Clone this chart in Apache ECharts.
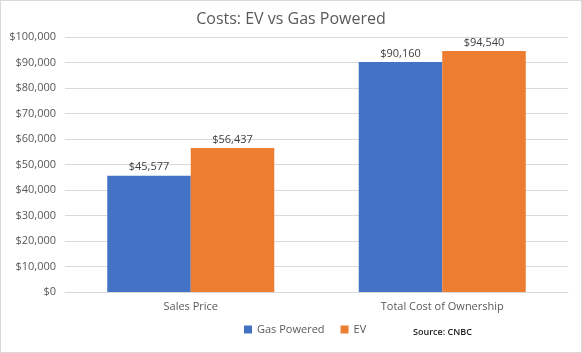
<!DOCTYPE html>
<html><head><meta charset="utf-8">
<script src="https://cdn.jsdelivr.net/npm/echarts@6/dist/echarts.min.js"></script>
<style>html,body{margin:0;padding:0;background:#fff}#c{width:582px;height:353px;box-sizing:border-box;border:1px solid #d9d9d9}</style>
</head><body><div id="c"></div>
<script>
const categories = ['Sales Price', 'Total Cost of Ownership'];
const gasPowered = [45577, 90160];
const ev = [56437, 94540];
const chart = echarts.init(document.getElementById('c'));
const fmt = v => '$' + Number(v).toLocaleString('en-US');
const lbl = {show: true, position: 'top', color: '#404040', fontSize: 11, fontFamily: 'Open Sans', distance: 3, formatter: p => fmt(p.value)};
chart.setOption({
  animation: false,
  title: {text: 'Costs: EV vs Gas Powered', left: 'center', top: 5, textStyle: {fontFamily: 'Open Sans', fontSize: 16, fontWeight: 'normal', color: '#595959'}},
  legend: {bottom: 12, left: 238, itemWidth: 8, itemHeight: 8, itemGap: 16, icon: 'rect', textStyle: {fontFamily: 'Open Sans', fontSize: 11, color: '#595959'}, data: ['Gas Powered', 'EV']},
  graphic: [{type: 'text', left: 412, top: 327, style: {text: 'Source: CNBC', font: '600 9px "Open Sans"', fill: '#222'}}],
  grid: {left: 64, right: 13, top: 36, bottom: 60},
  xAxis: {type: 'category', data: categories, axisTick: {show: false}, axisLine: {lineStyle: {color: '#d9d9d9'}}, axisLabel: {color: '#595959', fontFamily: 'Open Sans', fontSize: 11, margin: 9}},
  yAxis: {type: 'value', min: 0, max: 100000, interval: 10000, axisLabel: {formatter: fmt, color: '#595959', fontFamily: 'Open Sans', fontSize: 11, margin: 9}, splitLine: {lineStyle: {color: '#d9d9d9'}}},
  series: [
    {name: 'Gas Powered', type: 'bar', data: gasPowered, itemStyle: {color: '#4472c4'}, barGap: '0%', barCategoryGap: '33.6%', label: lbl},
    {name: 'EV', type: 'bar', data: ev, itemStyle: {color: '#ed7d31'}, label: lbl}
  ]
});
</script></body></html>
